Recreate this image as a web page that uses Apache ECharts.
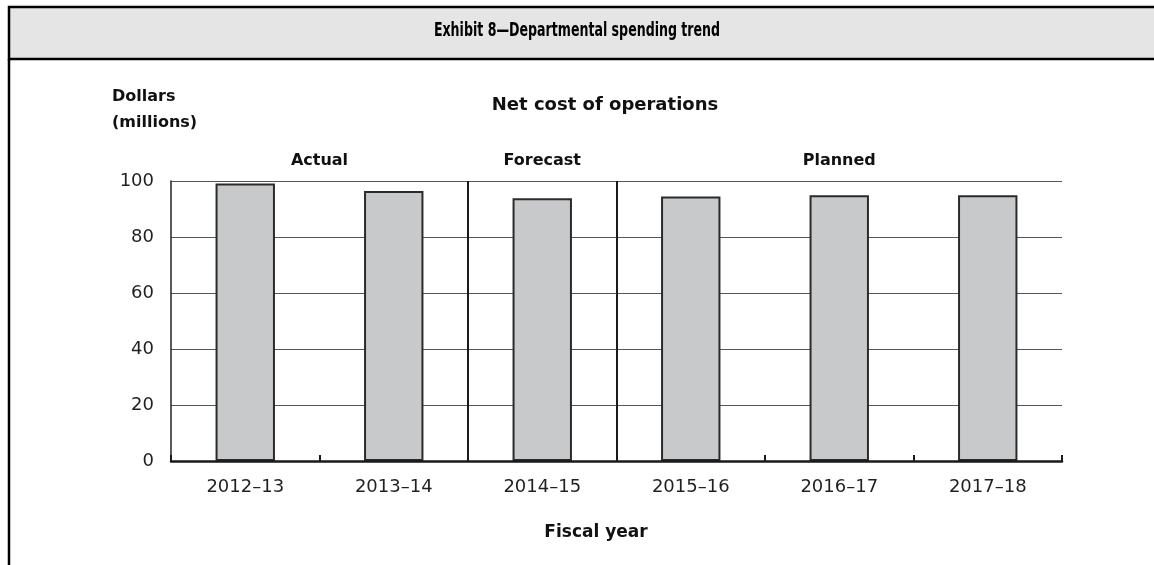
<!DOCTYPE html>
<html>
<head>
<meta charset="utf-8">
<script src="https://cdn.jsdelivr.net/npm/echarts@6/dist/echarts.min.js"></script>
<style>
  html, body { margin: 0; padding: 0; background: #fff; }
  #chart { width: 1154px; height: 565px; }
</style>
</head>
<body>
<div id="chart"></div>
<script>
// ---- data ----
var categories = ['2012\u201313', '2013\u201314', '2014\u201315', '2015\u201316', '2016\u201317', '2017\u201318'];
var netCost = [99.1, 96.4, 93.8, 94.5, 94.9, 94.9];
var yTicks = [0, 20, 40, 60, 80, 100];
var phaseNames = ['Actual', 'Forecast', 'Planned'];
var phaseStart = [0, 2, 3];
var phaseEnd = [2, 3, 6];
var separators = [2, 3];

var headerTitle = 'Exhibit 8\u2014Departmental spending trend';
var chartTitle = 'Net cost of operations';
var yName = 'Dollars\n(millions)';
var xName = 'Fiscal year';

var FONT = '"DejaVu Sans", "Liberation Sans", sans-serif';
var NARROW = '"DejaVu Sans Condensed", "DejaVu Sans", sans-serif';
var INK = '#231f20';

var chart = echarts.init(document.getElementById('chart'), null, { renderer: 'canvas' });

var option = {
  animation: false,
  backgroundColor: '#ffffff',
  grid: { left: 171, right: 92, top: 181, bottom: 104, containLabel: false },
  graphic: [
    {
      type: 'rect', z: 0,
      shape: { x: 9, y: 7, width: 1200, height: 52 },
      style: { fill: '#e5e5e5', stroke: '#000', lineWidth: 2.5 }
    },
    {
      type: 'line', z: 0,
      shape: { x1: 9, y1: 59, x2: 9, y2: 580 },
      style: { stroke: '#000', lineWidth: 2.5 }
    },
    {
      type: 'text', z: 10, x: 577, y: 31, scaleX: 0.70,
      style: {
        text: headerTitle, fill: '#000', font: 'bold 20px ' + NARROW,
        textAlign: 'center', textVerticalAlign: 'middle'
      }
    },
    {
      type: 'text', z: 10, x: 605, y: 105,
      style: {
        text: chartTitle, fill: '#111', font: 'bold 18px ' + FONT,
        textAlign: 'center', textVerticalAlign: 'middle'
      }
    },
    {
      type: 'text', z: 10, x: 112, y: 110,
      style: {
        text: yName, fill: '#111', font: 'bold 16px ' + FONT, lineHeight: 26,
        textAlign: 'left', textVerticalAlign: 'middle'
      }
    },
    {
      type: 'text', z: 10, x: 596, y: 533,
      style: {
        text: xName, fill: '#111', font: 'bold 17px ' + FONT,
        textAlign: 'center', textVerticalAlign: 'middle'
      }
    }
  ],
  xAxis: [
    {
      type: 'category',
      data: categories,
      boundaryGap: true,
      axisLine: { show: true, lineStyle: { color: '#1a1a1a', width: 2.5 } },
      axisTick: { show: true, inside: true, length: 6, interval: 0, lineStyle: { color: '#1a1a1a', width: 2 } },
      axisLabel: { interval: 0, margin: 17, fontSize: 18, fontFamily: FONT, color: INK },
      splitLine: { show: false },
      z: 5
    },
    {
      type: 'value', min: 0, max: categories.length, show: false
    }
  ],
  yAxis: {
    type: 'value',
    min: yTicks[0],
    max: yTicks[yTicks.length - 1],
    interval: yTicks[1] - yTicks[0],
    axisLine: { show: true, lineStyle: { color: '#222', width: 1.5 } },
    axisTick: { show: false },
    axisLabel: { margin: 17, fontSize: 18, fontFamily: FONT, color: INK },
    splitLine: { show: true, lineStyle: { color: '#555', width: 1 } }
  },
  series: [
    {
      type: 'bar',
      data: netCost,
      barWidth: '40%',
      itemStyle: { color: '#c8c9cb', borderColor: '#2b2b2b', borderWidth: 2 },
      z: 3
    },
    {
      type: 'line',
      xAxisIndex: 1,
      yAxisIndex: 0,
      data: [],
      silent: true,
      markLine: {
        silent: true,
        symbol: ['none', 'none'],
        label: { show: false },
        lineStyle: { color: '#1a1a1a', width: 2, type: 'solid' },
        data: separators.map(function (s) { return { xAxis: s }; })
      },
      markArea: {
        silent: true,
        itemStyle: { color: 'rgba(0,0,0,0)' },
        label: {
          show: true, position: 'top', distance: 12,
          fontFamily: FONT, fontWeight: 'bold', fontSize: 16, color: '#111'
        },
        data: phaseNames.map(function (n, i) {
          return [{ name: n, xAxis: phaseStart[i] }, { xAxis: phaseEnd[i] }];
        })
      }
    }
  ]
};

chart.setOption(option);
</script>
</body>
</html>
